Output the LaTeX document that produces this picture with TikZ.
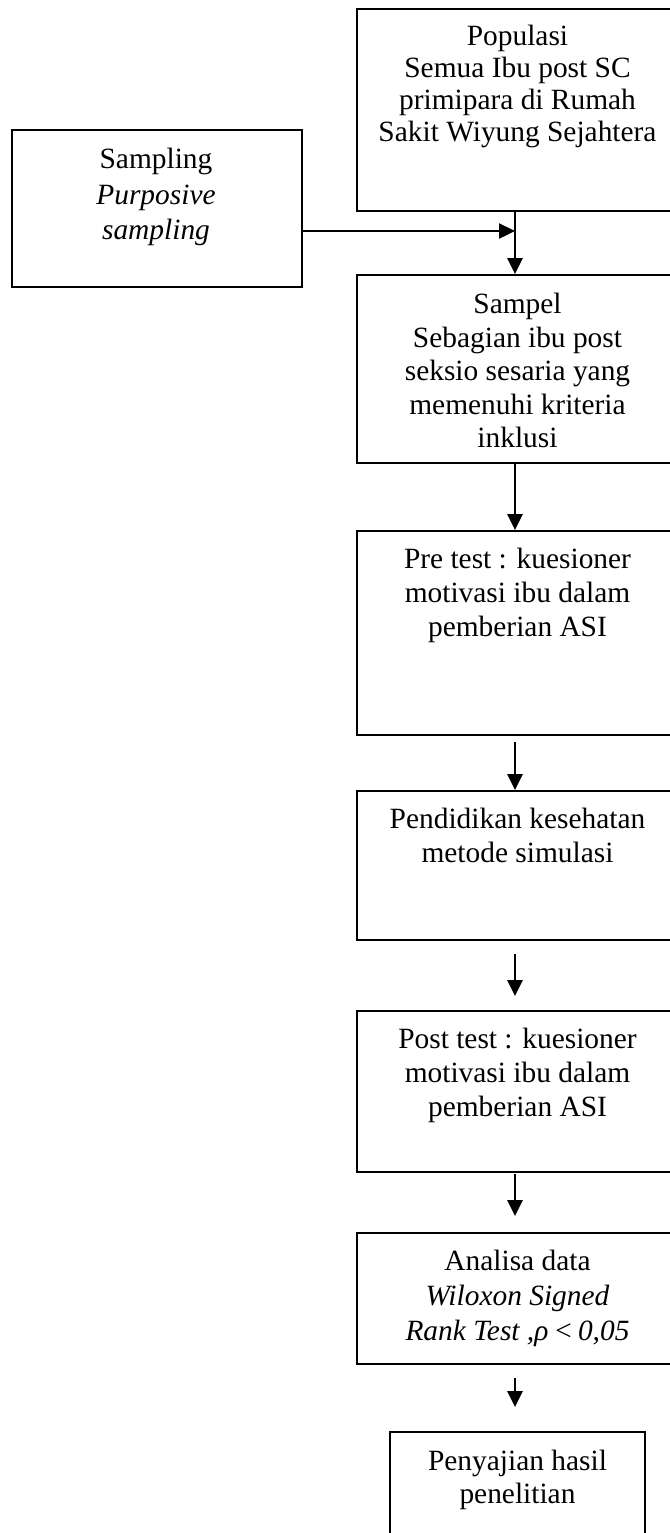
\documentclass[tikz,border=0pt]{standalone}
\usepackage{fontspec}
\setmainfont{Liberation Serif}
\usetikzlibrary{arrows.meta,calc}
\begin{document}
\begin{tikzpicture}[x=0.5pt,y=-0.5pt,
  boxnode/.style={draw=black,line width=0.9pt,rectangle,inner sep=0pt},
  txt/.style={align=center,inner sep=0pt,anchor=north,font=\fontsize{14.7}{17}\selectfont},
  arr/.style={line width=1.2pt,-{Triangle[length=8pt,width=7.5pt]}}]
\useasboundingbox (0,0) rectangle (670,1533);
\clip (0,0) rectangle (670,1533);
% boxes
\node[boxnode,minimum width=160.5pt,minimum height=101pt] (pop) at (517.5,110) {};
\node[boxnode,minimum width=145pt,minimum height=78.5pt] (samp) at (157,208.5) {};
\node[boxnode,minimum width=160.5pt,minimum height=94pt] (sampel) at (517.5,369) {};
\node[boxnode,minimum width=160.5pt,minimum height=102pt] (pre) at (517.5,633) {};
\node[boxnode,minimum width=160.5pt,minimum height=74.5pt] (pend) at (517.5,865.5) {};
\node[boxnode,minimum width=160.5pt,minimum height=80.5pt] (post) at (517.5,1091.5) {};
\node[boxnode,minimum width=160.5pt,minimum height=65.5pt] (anal) at (517.5,1298.5) {};
\node[boxnode,minimum width=127.5pt,minimum height=64pt] (peny) at (517.5,1496) {};
% texts
\node[txt,font=\fontsize{14.7}{15.9}\selectfont] (tpop) at (517.5,25) {Populasi\\Semua Ibu post SC\\primipara di Rumah\\Sakit Wiyung Sejahtera};
\node[txt,font=\fontsize{14.7}{17.7}\selectfont] (tsamp) at (156,148) {Sampling\\\textit{Purposive}\\\textit{sampling}};
\node[txt,font=\fontsize{14.7}{16.7}\selectfont] (tsampel) at (517.5,293) {Sampel\\Sebagian ibu post\\seksio sesaria yang\\memenuhi kriteria\\inklusi};
\node[txt] (tpre) at (517.5,548) {Pre test : kuesioner\\motivasi ibu dalam\\pemberian ASI};
\node[txt] (tpend) at (517.5,808) {Pendidikan kesehatan\\metode simulasi};
\node[txt] (tpost) at (517.5,1028) {Post test : kuesioner\\motivasi ibu dalam\\pemberian ASI};
\node[txt,font=\fontsize{14.7}{17.5}\selectfont] (tanal) at (517.5,1250) {Analisa data\\\textit{Wiloxon Signed}\\\textit{Rank Test ,ρ\,<\,0,05}};
\node[txt,font=\fontsize{14.7}{16.5}\selectfont] (tpeny) at (517.5,1450) {Penyajian hasil\\penelitian};
% connectors
\coordinate (j) at (515,231);
\draw[arr] (pop.south -| j) -- (sampel.north -| j);
\draw[arr] (samp.east |- j) -- (j);
\draw[arr] (sampel.south -| j) -- (pre.north -| j);
\draw[arr] ($(pre.south -| j)+(0,6)$) -- (pend.north -| j);
\draw[arr] ($(pend.south -| j)+(0,13)$) -- ($(post.north -| j)+(0,-14)$);
\draw[arr] ($(post.south -| j)+(0,1)$) -- ($(anal.north -| j)+(0,-16)$);
\draw[arr] ($(anal.south -| j)+(0,13)$) -- ($(peny.north -| j)+(0,-24)$);
\end{tikzpicture}
\end{document}
